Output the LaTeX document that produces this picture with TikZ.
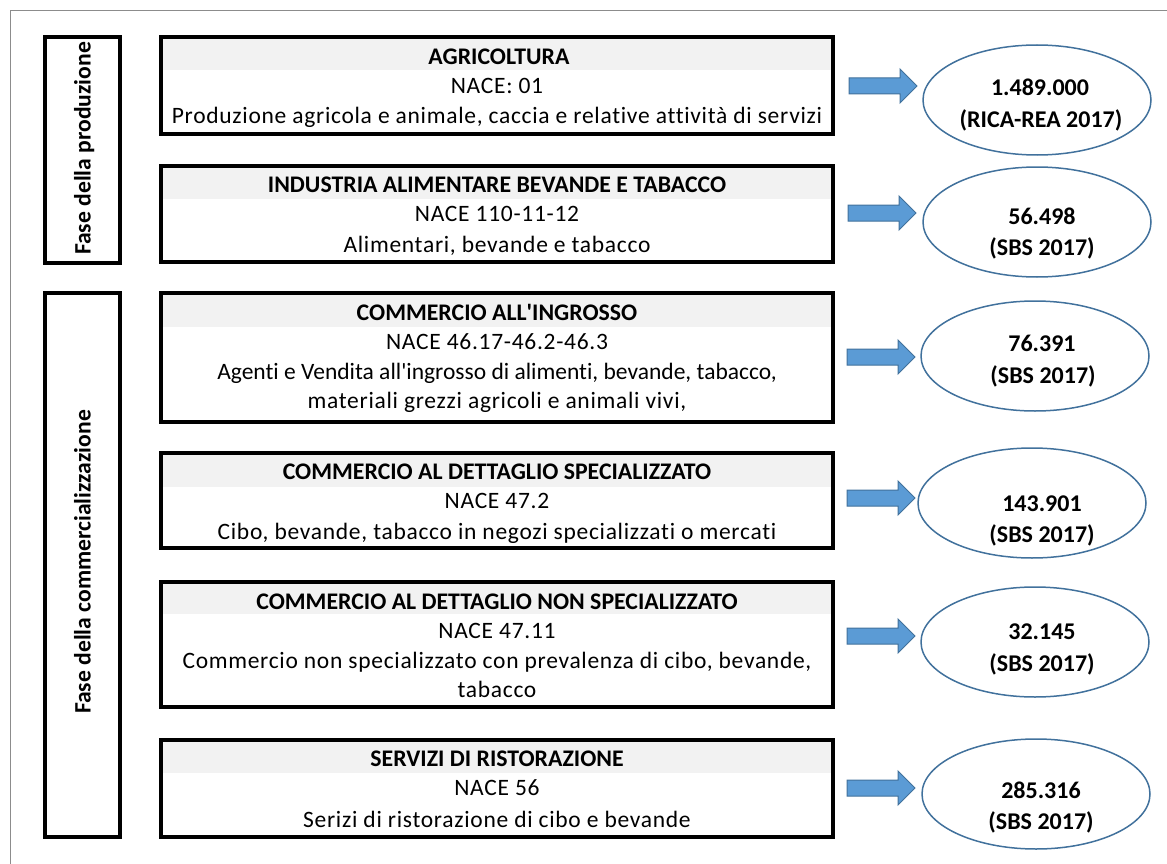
\documentclass[tikz,border=0pt]{standalone}
\usepackage{fontspec}
\setmainfont{Carlito}[Ligatures={NoCommon}]
\usetikzlibrary{shapes.geometric}
\definecolor{bandgray}{HTML}{F2F2F2}
\definecolor{arrowfill}{HTML}{5B9BD5}
\definecolor{arrowline}{HTML}{41719C}
\definecolor{ellline}{HTML}{41719C}
\definecolor{framegray}{HTML}{8C8C8C}
\tikzset{
  sectorbox/.style={draw=black, line width=4pt, rectangle, inner sep=0pt, minimum width=672pt},
  phasebox/.style={draw=black, line width=4pt, rectangle, inner sep=0pt, minimum width=75pt},
  band/.style={fill=bandgray, draw=none},
  hdr/.style={font=\fontsize{23.8}{28}\selectfont\bfseries, inner sep=0pt, text height=15pt, text depth=0pt},
  body/.style={font=\fontsize{23.5}{28}\selectfont\addfontfeature{LetterSpace=3}, inner sep=0pt, text height=15pt, text depth=0pt},
  bodytight/.style={font=\fontsize{23.5}{28}\selectfont, inner sep=0pt, text height=15pt, text depth=0pt},
  phaselbl/.style={font=\fontsize{23.6}{28}\selectfont\bfseries, rotate=90, inner sep=0pt, text height=15pt, text depth=0pt},
  valell/.style={draw=ellline, line width=1.5pt, ellipse, inner sep=0pt, minimum width=228pt, minimum height=110pt},
  valtxt/.style={font=\fontsize{24}{28}\selectfont\bfseries, inner sep=0pt, text height=15pt, text depth=0pt},
  blockarrow/.style={draw=arrowline, fill=arrowfill, line width=1pt, line join=miter},
}
\newcommand{\blockarr}[1]{\draw[blockarrow] (#1) ++(0,-8) -- ++(51,0) -- ++(0,-9) -- ++(17,17) -- ++(-17,17) -- ++(0,-9) -- ++(-51,0) -- cycle;}
\begin{document}
\begin{tikzpicture}[x=1pt,y=-1pt]
\useasboundingbox (0,0) rectangle (1167,864);
\draw[framegray, line width=1pt] (10,864) -- (10,11) -- (1167,11);

% phase boxes
\node[phasebox, minimum height=226pt] (p1) at (82.5,150) {};
\node[phaselbl] (p1t) at (83,148.5) {Fase della produzione};
\node[phasebox, minimum height=544pt] (p2) at (82.5,565) {};
\node[phaselbl] (p2t) at (83,562) {Fase della commercializzazione};

% header bands
\fill[band] (161,37) rectangle (833,70);
\fill[band] (161,166) rectangle (833,199);
\fill[band] (161,293) rectangle (833,327);
\fill[band] (161,453) rectangle (833,487);
\fill[band] (161,582) rectangle (833,614);
\fill[band] (161,740) rectangle (833,773);

% sector boxes
\node[sectorbox, minimum height=97pt] (b1) at (497,85.5) {};
\node[sectorbox, minimum height=96pt] (b2) at (497,214) {};
\node[sectorbox, minimum height=129pt] (b3) at (497,357.5) {};
\node[sectorbox, minimum height=95pt] (b4) at (497,500.5) {};
\node[sectorbox, minimum height=125pt] (b5) at (497,644.5) {};
\node[sectorbox, minimum height=97pt] (b6) at (497,788.5) {};

% texts box 1
\node[hdr] (b1h) at (499,57) {AGRICOLTURA};
\node[body] (b1a) at (497,86) {NACE: 01};
\node[body] (b1b) at (497,116) {Produzione agricola e animale, caccia e relative attività di servizi};
% box 2
\node[hdr] (b2h) at (497,185) {INDUSTRIA ALIMENTARE BEVANDE E TABACCO};
\node[body] (b2a) at (497,214) {NACE 110-11-12};
\node[body] (b2b) at (497,245) {Alimentari, bevande e tabacco};
% box 3
\node[hdr] (b3h) at (497,313) {COMMERCIO ALL\textquotesingle INGROSSO};
\node[body] (b3a) at (497,342) {NACE 46.17-46.2-46.3};
\node[bodytight] (b3b) at (497,372) {Agenti e Vendita all\textquotesingle ingrosso di alimenti, bevande, tabacco,};
\node[body] (b3c) at (497,401) {materiali grezzi agricoli e animali vivi,};
% box 4
\node[hdr] (b4h) at (497,472) {COMMERCIO AL DETTAGLIO SPECIALIZZATO};
\node[body] (b4a) at (497,501) {NACE 47.2};
\node[body] (b4b) at (497,532) {Cibo, bevande, tabacco in negozi specializzati o mercati};
% box 5
\node[hdr] (b5h) at (497,602) {COMMERCIO AL DETTAGLIO NON SPECIALIZZATO};
\node[body] (b5a) at (497,631) {NACE 47.11};
\node[body] (b5b) at (497,661) {Commercio non specializzato con prevalenza di cibo, bevande,};
\node[body] (b5c) at (497,690) {tabacco};
% box 6
\node[hdr] (b6h) at (497,759) {SERVIZI DI RISTORAZIONE};
\node[body] (b6a) at (497,788) {NACE 56};
\node[body] (b6b) at (497,820) {Serizi di ristorazione di cibo e bevande};

% arrows
\coordinate (a1) at (849,86);
\coordinate (a2) at (848,213);
\coordinate (a3) at (847,357);
\coordinate (a4) at (847,498);
\coordinate (a5) at (847,636);
\coordinate (a6) at (847,788);
\blockarr{a1}
\blockarr{a2}
\blockarr{a3}
\blockarr{a4}
\blockarr{a5}
\blockarr{a6}

% ellipses
\node[valell] (e1) at (1037,100) {};
\node[valtxt] (e1a) at (1040,88) {1.489.000};
\node[valtxt] (e1b) at (1041,120) {(RICA-REA 2017)};
\node[valell] (e2) at (1037,222) {};
\node[valtxt] (e2a) at (1042,217) {56.498};
\node[valtxt] (e2b) at (1042,248) {(SBS 2017)};
\node[valell] (e3) at (1035,356) {};
\node[valtxt] (e3a) at (1042,344) {76.391};
\node[valtxt] (e3b) at (1043,376) {(SBS 2017)};
\node[valell] (e4) at (1032,503) {};
\node[valtxt] (e4a) at (1042,504) {143.901};
\node[valtxt] (e4b) at (1042,535) {(SBS 2017)};
\node[valell] (e5) at (1035,642) {};
\node[valtxt] (e5a) at (1042,632) {32.145};
\node[valtxt] (e5b) at (1042,664) {(SBS 2017)};
\node[valell] (e6) at (1036,794) {};
\node[valtxt] (e6a) at (1041,791) {285.316};
\node[valtxt] (e6b) at (1041,822) {(SBS 2017)};
\end{tikzpicture}
\end{document}
